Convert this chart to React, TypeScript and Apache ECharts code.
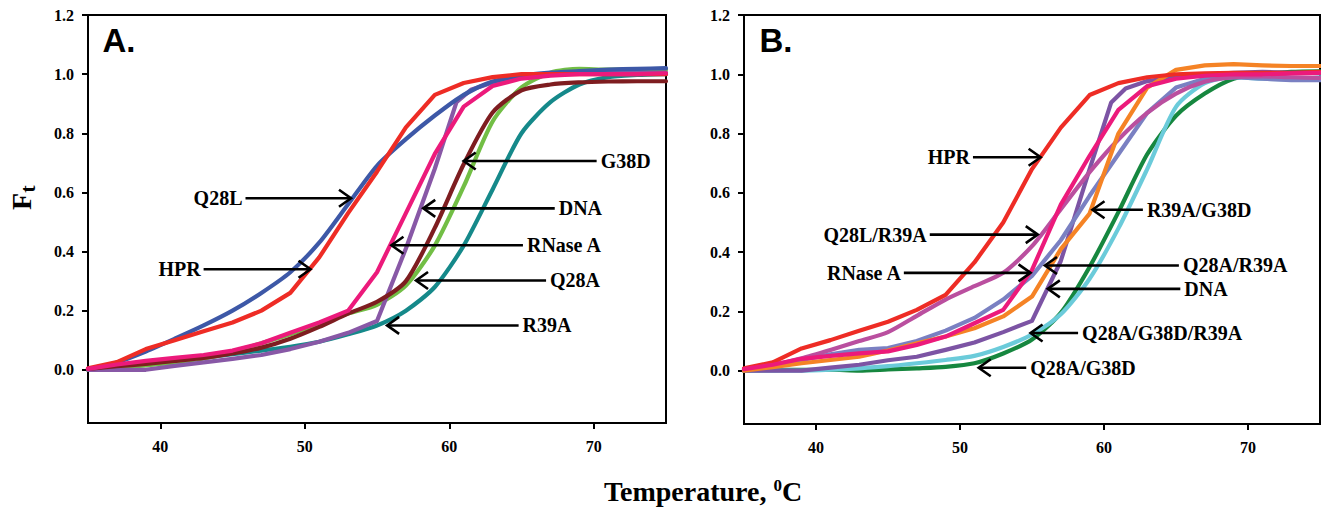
import React, { useEffect, useRef } from "react";
import * as echarts from "echarts";

type Pt = [number, number];

// ---------- Panel A data (temperature °C, fraction Ft) ----------
const HPR_A: Pt[] = [[35,0.005],[37,0.026],[39,0.07],[41,0.1],[43,0.13],[45,0.16],[47,0.2],[49,0.26],[51,0.38],[53,0.53],[55,0.67],[57,0.82],[59,0.93],[61,0.97],[63,0.99],[65,1.0],[67,1.0],[69,1.0],[71,1.0],[73,1.0],[75,1.0]];
const Q28L_A: Pt[] = [[35,0.003],[37,0.025],[39,0.062],[41,0.105],[43,0.15],[45,0.2],[47,0.26],[49,0.33],[51,0.43],[53,0.56],[55,0.69],[57,0.78],[59,0.86],[61,0.93],[63,0.975],[65,0.995],[67,1.005],[69,1.01],[71,1.015],[73,1.018],[75,1.02]];
const DNA_A: Pt[] = [[35,0],[37,0],[39,0],[41,0.013],[43,0.025],[45,0.037],[47,0.05],[49,0.07],[51,0.095],[53,0.125],[55,0.165],[57,0.41],[59,0.68],[60.5,0.905],[61.5,0.947],[63,0.972],[65,0.99],[67,1.0],[69,1.003],[71,1.005],[73,1.005],[75,1.005]];
const RNASE_A: Pt[] = [[35,0.003],[37,0.018],[39,0.03],[41,0.04],[43,0.05],[45,0.065],[47,0.09],[49,0.125],[51,0.16],[53,0.2],[55,0.33],[57,0.53],[59,0.73],[61,0.89],[63,0.96],[65,0.985],[67,0.995],[69,1.0],[71,1.0],[73,1.0],[75,1.003]];
const G38D_A: Pt[] = [[35,0.003],[37,0.012],[39,0.02],[41,0.03],[43,0.04],[45,0.055],[47,0.075],[49,0.105],[51,0.145],[53,0.19],[55,0.23],[57,0.3],[59,0.48],[61,0.695],[63,0.87],[65,0.945],[67,0.965],[69,0.972],[71,0.975],[73,0.976],[75,0.976]];
const Q28A_A: Pt[] = [[35,0],[37,0.008],[39,0.015],[41,0.025],[43,0.038],[45,0.06],[47,0.09],[49,0.12],[51,0.155],[53,0.19],[55,0.22],[57,0.285],[59,0.42],[61,0.62],[63,0.84],[65,0.955],[67,1.005],[69,1.018],[71,1.015],[73,1.015],[75,1.015]];
const R39A_A: Pt[] = [[35,0],[37,0.008],[39,0.018],[41,0.027],[43,0.04],[45,0.053],[47,0.065],[49,0.078],[51,0.095],[53,0.12],[55,0.15],[57,0.2],[59,0.28],[61,0.42],[63,0.61],[65,0.8],[67,0.905],[69,0.965],[71,0.99],[73,0.997],[75,1.0]];

// ---------- Panel B data ----------
const HPR_B: Pt[] = [[35,0.008],[37,0.028],[39,0.075],[41,0.103],[43,0.135],[45,0.165],[47,0.205],[49,0.256],[51,0.365],[53,0.5],[55,0.68],[57,0.82],[59,0.93],[61,0.97],[63,0.99],[65,1.0],[67,1.003],[69,1.005],[71,1.005],[73,1.005],[75,1.008]];
const Q28L_R39A_B: Pt[] = [[35,0.005],[37,0.02],[39,0.042],[41,0.07],[43,0.1],[45,0.13],[47,0.185],[49,0.24],[51,0.285],[53,0.33],[55,0.42],[57,0.545],[59,0.67],[61,0.78],[63,0.87],[65,0.935],[67,0.975],[69,0.99],[71,0.993],[73,0.99],[75,0.988]];
const RNASE_B: Pt[] = [[35,0.005],[37,0.02],[39,0.04],[41,0.05],[43,0.058],[45,0.065],[47,0.087],[49,0.115],[51,0.16],[53,0.205],[55,0.34],[57,0.56],[59,0.725],[61,0.88],[63,0.96],[65,0.985],[67,0.995],[69,1.0],[71,1.0],[73,1.003],[75,1.005]];
const R39A_G38D_B: Pt[] = [[35,0],[37,0.012],[39,0.025],[41,0.036],[43,0.047],[45,0.068],[47,0.092],[49,0.115],[51,0.143],[53,0.183],[55,0.25],[57,0.41],[59,0.53],[61,0.8],[63,0.955],[65,1.015],[67,1.03],[69,1.034],[71,1.03],[73,1.028],[75,1.028]];
const Q28A_R39A_B: Pt[] = [[35,0.003],[37,0.02],[39,0.036],[41,0.055],[43,0.07],[45,0.076],[47,0.1],[49,0.135],[51,0.178],[53,0.24],[55,0.32],[57,0.44],[59,0.59],[61,0.73],[63,0.87],[65,0.955],[67,0.985],[69,0.99],[71,0.985],[73,0.98],[75,0.98]];
const DNA_B: Pt[] = [[35,0],[37,0],[39,0],[41,0.01],[43,0.02],[45,0.035],[47,0.047],[49,0.07],[51,0.095],[53,0.13],[55,0.168],[57,0.37],[59,0.68],[60.5,0.905],[61.5,0.952],[63,0.977],[65,0.99],[67,1.0],[69,1.005],[71,1.008],[73,1.005],[75,1.005]];
const Q28A_G38D_R39A_B: Pt[] = [[35,0],[37,0],[39,0],[41,0.003],[43,0.008],[45,0.015],[47,0.025],[49,0.036],[51,0.05],[53,0.08],[55,0.122],[57,0.19],[59,0.31],[61,0.48],[63,0.68],[65,0.89],[67,0.97],[69,0.99],[71,0.985],[73,0.983],[75,0.99]];
const Q28A_G38D_B: Pt[] = [[35,0],[37,0.002],[39,0.003],[41,0.003],[43,0],[45,0.004],[47,0.008],[49,0.013],[51,0.025],[53,0.058],[55,0.105],[57,0.195],[59,0.35],[61,0.535],[63,0.73],[65,0.86],[67,0.935],[69,0.985],[71,1.0],[73,1.008],[75,1.01]];

// ---------- axes ----------
const X_TICKS = [40, 50, 60, 70];
const Y_TICKS = [0, 0.2, 0.4, 0.6, 0.8, 1.0, 1.2];
const X_MIN = 35, X_MAX = 75, Y_MIN = -0.18, Y_MAX = 1.2;

// ---------- annotations: label, arrow tail temperature, arrow tip temperature, Ft ----------
type Ann = { label: string; from: number; to: number; f: number };
const ANN_A: Ann[] = [
  { label: "Q28L", from: 45.9, to: 53.2, f: 0.58 },
  { label: "HPR", from: 43.0, to: 50.4, f: 0.34 },
  { label: "G38D", from: 70.2, to: 61.0, f: 0.706 },
  { label: "DNA", from: 67.3, to: 58.2, f: 0.546 },
  { label: "RNase A", from: 65.1, to: 56.0, f: 0.421 },
  { label: "Q28A", from: 66.7, to: 57.7, f: 0.302 },
  { label: "R39A", from: 64.8, to: 55.7, f: 0.15 },
];
const ANN_B: Ann[] = [
  { label: "HPR", from: 50.9, to: 55.6, f: 0.72 },
  { label: "Q28L/R39A", from: 47.9, to: 55.4, f: 0.459 },
  { label: "RNase A", from: 46.1, to: 54.9, f: 0.33 },
  { label: "R39A/G38D", from: 62.7, to: 59.2, f: 0.543 },
  { label: "Q28A/R39A", from: 65.2, to: 55.9, f: 0.355 },
  { label: "DNA", from: 65.3, to: 56.1, f: 0.276 },
  { label: "Q28A/G38D/R39A", from: 58.2, to: 54.9, f: 0.127 },
  { label: "Q28A/G38D", from: 54.6, to: 51.3, f: 0.01 },
];

const SERIES_A = [
  { name: "R39A", data: R39A_A, color: "#15898A", smooth: true },
  { name: "Q28A", data: Q28A_A, color: "#72BE45", smooth: true },
  { name: "DNA", data: DNA_A, color: "#8858A6", smooth: false },
  { name: "G38D", data: G38D_A, color: "#7E1D20", smooth: true },
  { name: "Q28L", data: Q28L_A, color: "#3D58A7", smooth: true },
  { name: "HPR", data: HPR_A, color: "#EE2C25", smooth: false },
  { name: "RNase A", data: RNASE_A, color: "#EC1A7B", smooth: false },
];
const SERIES_B = [
  { name: "Q28A/G38D", data: Q28A_G38D_B, color: "#16873F", smooth: true },
  { name: "Q28A/G38D/R39A", data: Q28A_G38D_R39A_B, color: "#6BCBDA", smooth: true },
  { name: "DNA", data: DNA_B, color: "#7C54A4", smooth: false },
  { name: "Q28A/R39A", data: Q28A_R39A_B, color: "#7A80C2", smooth: false },
  { name: "Q28L/R39A", data: Q28L_R39A_B, color: "#BA4F9F", smooth: true },
  { name: "R39A/G38D", data: R39A_G38D_B, color: "#F58325", smooth: false },
  { name: "HPR", data: HPR_B, color: "#EE2C25", smooth: false },
  { name: "RNase A", data: RNASE_B, color: "#EC1A7B", smooth: false },
];

const SERIF = '"Liberation Serif", "Times New Roman", serif';
const SANS = '"Liberation Sans", Arial, sans-serif';

export default function App() {
  const ref = useRef<HTMLDivElement>(null);

  useEffect(() => {
    const el = ref.current;
    if (!el) return;
    const chart = echarts.init(el, null, { renderer: "svg" });

    const grids = [
      { left: 88, top: 15, width: 578, height: 408 },
      { left: 744, top: 15, width: 576, height: 409 },
    ];

    const xAxis = grids.map((_, i) => ({
      type: "value",
      gridIndex: i,
      min: X_MIN,
      max: X_MAX,
      axisLine: { show: true, onZero: false, lineStyle: { color: "#000", width: 2 } },
      axisTick: { show: true, length: 6, customValues: X_TICKS, lineStyle: { color: "#000", width: 2 } },
      axisLabel: {
        customValues: X_TICKS,
        margin: 15,
        color: "#000",
        fontFamily: SERIF,
        fontWeight: "bold",
        fontSize: 16,
      },
      splitLine: { show: false },
    }));

    const yAxis = grids.map((_, i) => ({
      type: "value",
      gridIndex: i,
      min: Y_MIN,
      max: Y_MAX,
      axisLine: { show: true, onZero: false, lineStyle: { color: "#000", width: 2 } },
      axisTick: { show: true, length: 6, customValues: Y_TICKS, lineStyle: { color: "#000", width: 2 } },
      axisLabel: {
        customValues: Y_TICKS,
        margin: 14,
        color: "#000",
        fontFamily: SERIF,
        fontWeight: "bold",
        fontSize: 16,
        formatter: (v: number) => v.toFixed(1),
      },
      splitLine: { show: false },
    }));

    const mk = (s: { name: string; data: Pt[]; color: string; smooth: boolean }, idx: number, z: number) => ({
      type: "line",
      name: s.name,
      xAxisIndex: idx,
      yAxisIndex: idx,
      data: s.data,
      showSymbol: false,
      symbol: "none",
      smooth: s.smooth ? 0.25 : false,
      silent: true,
      z,
      lineStyle: { color: s.color, width: 4.2, cap: "round", join: "round" },
      itemStyle: { color: s.color },
    });

    const series = [
      ...SERIES_A.map((s, k) => mk(s, 0, 2 + k * 0.01)),
      ...SERIES_B.map((s, k) => mk(s, 1, 2 + k * 0.01)),
    ];

    chart.setOption({
      animation: false,
      backgroundColor: "#fff",
      grid: grids.map((g) => ({ ...g, show: true, borderColor: "#000", borderWidth: 2, backgroundColor: "transparent", containLabel: false })),
      xAxis,
      yAxis,
      series,
    });

    const graphic: any[] = [];
    const addArrows = (anns: Ann[], gi: number) => {
      anns.forEach((a) => {
        const p0 = chart.convertToPixel({ gridIndex: gi }, [a.from, a.f]) as number[];
        const p1 = chart.convertToPixel({ gridIndex: gi }, [a.to, a.f]) as number[];
        const d = p1[0] > p0[0] ? 1 : -1;
        graphic.push({
          type: "line",
          shape: { x1: p0[0], y1: p0[1], x2: p1[0] - d * 1, y2: p1[1] },
          style: { stroke: "#000", lineWidth: 2.6 },
          z: 50,
        });
        graphic.push({
          type: "polyline",
          shape: { points: [[p1[0] - d * 12, p1[1] - 8.5], [p1[0], p1[1]], [p1[0] - d * 12, p1[1] + 8.5]] },
          style: { stroke: "#000", lineWidth: 2.6, fill: null },
          z: 50,
        });
        graphic.push({
          type: "text",
          x: p0[0] + (d > 0 ? -3 : 4),
          y: p0[1],
          z: 50,
          style: {
            text: a.label,
            fill: "#000",
            fontFamily: SERIF,
            fontWeight: "bold",
            fontSize: 20,
            align: d > 0 ? "right" : "left",
            verticalAlign: "middle",
            textAlign: d > 0 ? "right" : "left",
            textVerticalAlign: "middle",
          },
        });
      });
    };
    addArrows(ANN_A, 0);
    addArrows(ANN_B, 1);

    const txt = (text: string, x: number, y: number, extra: any = {}) => ({
      type: "text",
      x,
      y,
      z: 60,
      ...extra,
      style: {
        text,
        fill: "#000",
        align: "center",
        verticalAlign: "middle",
        textAlign: "center",
        textVerticalAlign: "middle",
        ...(extra.style || {}),
      },
    });

    graphic.push(txt("A.", 119, 40, { style: { fontFamily: SANS, fontWeight: "bold", fontSize: 33 } }));
    graphic.push(txt("B.", 776, 40, { style: { fontFamily: SANS, fontWeight: "bold", fontSize: 33 } }));
    graphic.push(
      txt("F", 21.5, 201.5, { rotation: Math.PI / 2, style: { fontFamily: SERIF, fontWeight: "bold", fontSize: 28 } })
    );
    graphic.push(
      txt("t", 27.5, 189, { rotation: Math.PI / 2, style: { fontFamily: SERIF, fontWeight: "bold", fontSize: 22 } })
    );
    graphic.push(
      txt("{a|Temperature, }{s|0}{a|C}", 703, 491, {
        style: {
          rich: {
            a: { fontFamily: SERIF, fontWeight: "bold", fontSize: 28, fill: "#000", color: "#000" },
            s: { fontFamily: SERIF, fontWeight: "bold", fontSize: 17, fill: "#000", color: "#000", verticalAlign: "top" },
          },
        },
      })
    );

    chart.setOption({ graphic });

    return () => {
      chart.dispose();
    };
  }, []);

  return (
    <div
      ref={ref}
      style={{ position: "absolute", left: 0, top: 0, width: 1321, height: 507, background: "#fff" }}
    />
  );
}
